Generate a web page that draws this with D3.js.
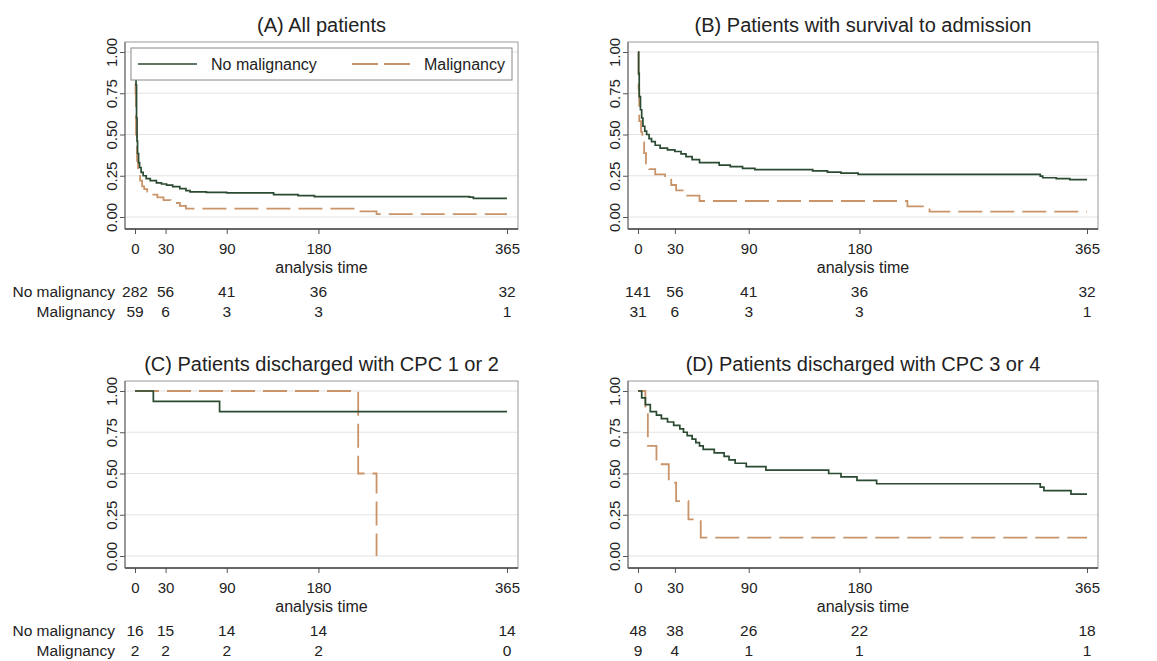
<!DOCTYPE html>
<html>
<head>
<meta charset="utf-8">
<script src="https://cdn.jsdelivr.net/npm/d3@7"></script>
<style>
  body { margin: 0; background: #fff; }
  text { font-family: "Liberation Sans", Arial, sans-serif; fill: #222; }
</style>
</head>
<body>
<script>
const WIDTH = 1157, HEIGHT = 661;
const GREEN = "#2a4a31", ORANGE = "#c99469";
const FONT = '"Liberation Sans", Arial, sans-serif';

// ---- data ----
const timeTicks = [0, 30, 90, 180, 365];
const survTicks = [0, 0.25, 0.5, 0.75, 1];
const groups = ["No malignancy", "Malignancy"];
const titles = ["(A) All patients", "(B) Patients with survival to admission",
  "(C) Patients discharged with CPC 1 or 2", "(D) Patients discharged with CPC 3 or 4"];

// numbers at risk at timeTicks
const riskA = [[282, 56, 41, 36, 32], [59, 6, 3, 3, 1]];
const riskB = [[141, 56, 41, 36, 32], [31, 6, 3, 3, 1]];
const riskC = [[16, 15, 14, 14, 14], [2, 2, 2, 2, 0]];
const riskD = [[48, 38, 26, 22, 18], [9, 4, 1, 1, 1]];

// Kaplan-Meier steps [time, survival]
const kmA_no = [[0,1],[0.5,0.9],[1,0.8],[1.5,0.6],[2,0.46],[2.5,0.385],[3.5,0.33],[4.5,0.3],[6,0.27],[8,0.25],
  [11,0.233],[15,0.22],[21,0.207],[26,0.2],[31,0.193],[37,0.184],[44,0.172],[50,0.16],[54,0.152],[70,0.149],
  [90,0.146],[136,0.136],[160,0.13],[176,0.124],[328,0.12],[332,0.113],[365,0.113]];
const kmA_mal = [[0,1],[0.5,0.75],[1,0.5],[2,0.34],[3,0.27],[5,0.22],[7,0.186],[9,0.169],[12,0.153],[18,0.136],
  [22,0.119],[28,0.102],[35,0.085],[44,0.068],[50,0.051],[219,0.034],[237,0.017],[365,0.017]];
const kmB_no = [[0,1],[0.5,0.87],[1,0.73],[2,0.65],[3,0.6],[4,0.55],[5.5,0.52],[7,0.5],[9,0.475],[11,0.457],
  [14,0.435],[18,0.417],[24,0.407],[30,0.397],[35,0.383],[39,0.366],[44,0.348],[50,0.33],[66,0.315],[75,0.305],
  [85,0.295],[95,0.287],[142,0.28],[154,0.272],[165,0.266],[179,0.258],[327,0.248],[329,0.238],[340,0.232],
  [351,0.227],[365,0.227]];
const kmB_mal = [[0,1],[0.5,0.774],[1,0.581],[2.5,0.516],[3.5,0.452],[5,0.387],[6.5,0.323],[9,0.29],[14,0.258],
  [22,0.226],[27,0.194],[31,0.161],[40,0.129],[50,0.097],[219,0.065],[237,0.032],[365,0.032]];
const kmC_no = [[0,1],[18,0.9375],[83,0.875],[365,0.875]];
const kmC_mal = [[0,1],[219,0.5],[237,0]];
const kmD_no = [[0,1],[3,0.958],[6,0.917],[10,0.875],[15,0.854],[19,0.833],[24,0.812],[29,0.792],[34,0.771],
  [37,0.75],[40,0.729],[44,0.708],[47,0.687],[50,0.667],[53,0.646],[62,0.625],[70,0.604],[74,0.583],[79,0.562],
  [88,0.542],[104,0.521],[155,0.5],[165,0.479],[178,0.458],[194,0.438],[327,0.417],[330,0.396],[352,0.375],[365,0.375]];
const kmD_mal = [[0,1],[6,0.889],[8,0.667],[15,0.556],[25,0.444],[31,0.333],[41,0.222],[51,0.111],[365,0.111]];

// ---- layout ----
const panels = [
  {title: titles[0], left: 125, right: 518, top: 42, x0: 135, x1: 507, curves: [kmA_no, kmA_mal], risk: riskA, labels: true, legend: true},
  {title: titles[1], left: 628, right: 1098, top: 42, x0: 638, x1: 1087, curves: [kmB_no, kmB_mal], risk: riskB, labels: false},
  {title: titles[2], left: 125, right: 518, top: 381, x0: 135, x1: 507, curves: [kmC_no, kmC_mal], risk: riskC, labels: true},
  {title: titles[3], left: 628, right: 1098, top: 381, x0: 638, x1: 1087, curves: [kmD_no, kmD_mal], risk: riskD, labels: false}
];
const FRAME_H = 187, Y1 = 10, Y0 = 175;

const svg = d3.select("body").append("svg").attr("width", WIDTH).attr("height", HEIGHT);

function drawPanel(p) {
  let g = svg.append("g").attr("transform", `translate(0,${p.top})`);
  let x = d3.scaleLinear().domain([0, 365]).range([p.x0, p.x1]);
  let y = d3.scaleLinear().domain([0, 1]).range([Y0, Y1]);

  // grid
  g.selectAll("line.grid").data(survTicks).enter().append("line")
    .attr("x1", p.left).attr("x2", p.right)
    .attr("y1", d => y(d)).attr("y2", d => y(d))
    .style("stroke", "#e3e3e3").style("stroke-width", 1);

  // frame
  g.append("rect").attr("x", p.left).attr("y", 0)
    .attr("width", p.right - p.left).attr("height", FRAME_H)
    .style("fill", "none").style("stroke", "#9a9a9a").style("stroke-width", 1);

  // x axis
  let xa = g.append("g").attr("transform", `translate(0,${FRAME_H})`)
    .call(d3.axisBottom(x).tickValues(timeTicks).tickSize(5).tickPadding(9).tickSizeOuter(0));
  xa.select(".domain").remove();
  g.append("line").attr("x1", p.left).attr("x2", p.right).attr("y1", FRAME_H).attr("y2", FRAME_H)
    .style("stroke", "#444").style("stroke-width", 1.3);
  xa.selectAll("line").style("stroke", "#555");
  xa.selectAll("text").style("font-size", "15px").style("fill", "#222").style("font-family", FONT);

  // y axis
  let ya = g.append("g").attr("transform", `translate(${p.left},0)`)
    .call(d3.axisLeft(y).tickValues(survTicks).tickFormat(d3.format(".2f")).tickSize(5).tickSizeOuter(0));
  ya.select(".domain").remove();
  g.append("line").attr("x1", p.left).attr("x2", p.left).attr("y1", 0).attr("y2", FRAME_H)
    .style("stroke", "#666").style("stroke-width", 1);
  ya.selectAll("line").style("stroke", "#555");
  ya.selectAll("text")
    .attr("x", 0).attr("y", 0).attr("dy", "0.36em")
    .attr("transform", "translate(-13,0) rotate(-90)")
    .attr("text-anchor", "middle")
    .style("font-size", "15px").style("fill", "#222").style("font-family", FONT);

  // curves
  let line = d3.line().x(d => x(d[0])).y(d => y(d[1])).curve(d3.curveStepAfter);
  g.append("path").datum(p.curves[1]).attr("d", line)
    .style("fill", "none").style("stroke", ORANGE).style("stroke-width", 1.8)
    .style("stroke-dasharray", "24,8");
  g.append("path").datum(p.curves[0]).attr("d", line)
    .style("fill", "none").style("stroke", GREEN).style("stroke-width", 1.7);

  // title
  g.append("text").attr("x", (p.left + p.right) / 2).attr("y", -10)
    .attr("text-anchor", "middle").style("font-size", "20px").text(p.title);

  // x title
  g.append("text").attr("x", (p.left + p.right) / 2).attr("y", FRAME_H + 44)
    .attr("text-anchor", "middle").style("font-size", "16px").text("analysis time");

  // numbers at risk
  p.risk.forEach((row, i) => {
    let ry = FRAME_H + 68 + i * 20;
    if (p.labels) {
      g.append("text").attr("x", 115).attr("y", ry).attr("text-anchor", "end")
        .style("font-size", "15.5px").text(groups[i]);
    }
    g.selectAll(null).data(row).enter().append("text")
      .attr("x", (d, j) => x(timeTicks[j])).attr("y", ry)
      .attr("text-anchor", "middle").style("font-size", "15.5px").text(d => d);
  });

  // legend
  if (p.legend) {
    let lg = g.append("g");
    lg.append("rect").attr("x", 131).attr("y", 6).attr("width", 381).attr("height", 32)
      .style("fill", "#fff").style("stroke", "#8a8a8a").style("stroke-width", 1);
    lg.append("line").attr("x1", 138).attr("x2", 197).attr("y1", 22).attr("y2", 22)
      .style("stroke", GREEN).style("stroke-width", 1.7);
    lg.append("text").attr("x", 211).attr("y", 28).style("font-size", "16px").text(groups[0]);
    lg.append("line").attr("x1", 352).attr("x2", 410).attr("y1", 22).attr("y2", 22)
      .style("stroke", ORANGE).style("stroke-width", 1.8).style("stroke-dasharray", "26,6");
    lg.append("text").attr("x", 424).attr("y", 28).style("font-size", "16px").text(groups[1]);
  }
}

panels.forEach(drawPanel);
</script>
</body>
</html>
